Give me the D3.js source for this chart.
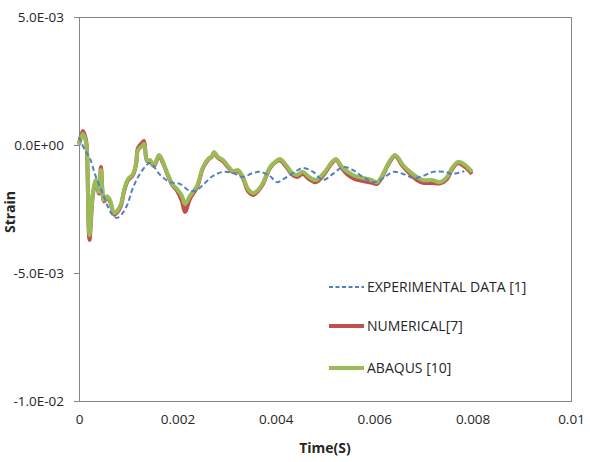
<!DOCTYPE html>
<html><head><meta charset="utf-8">
<script src="https://cdn.jsdelivr.net/npm/d3@7"></script>
<style>
body{margin:0;background:#fff;}
text{font-family:"Open Sans",Lato,sans-serif;fill:#262626;}
</style></head>
<body><svg id="c" width="590" height="462"></svg>
<script>
// Experimental data [1]
const expTime = [0,0.000012,0.000022,0.000033,0.000047,0.000059,0.000067,0.000077,0.000087,0.000098,0.000108,0.00012,0.000134,0.000144,0.000165,0.000185,0.000205,0.000226,0.00024,0.000252,0.000272,0.000293,0.000313,0.000333,0.000354,0.000368,0.000388,0.000402,0.000419,0.000439,0.000455,0.000476,0.000496,0.000516,0.000537,0.000557,0.000577,0.000602,0.000622,0.000638,0.000659,0.000679,0.000699,0.00072,0.000744,0.000758,0.00077,0.000783].map(d=>d*10);
const expStrain = [0.31,-0.2,-0.51,-1.17,-1.84,-2.42,-2.70,-2.85,-2.70,-2.34,-1.76,-1.25,-0.86,-0.70,-1.17,-1.45,-1.52,-1.80,-1.76,-1.56,-1.21,-1.05,-1.09,-1.25,-1.09,-1.05,-1.21,-1.45,-1.29,-1.05,-0.90,-1.05,-1.37,-1.13,-0.86,-0.98,-1.25,-1.45,-1.25,-1.05,-1.13,-1.29,-1.21,-1.05,-1.05,-1.13,-1.09,-1.02].map(d=>d*1e-3);

// Numerical [7] and ABAQUS [10] share a time base
const simTime = [0,0.041,0.081,0.142,0.163,0.213,0.285,0.346,0.407,0.447,0.508,0.569,0.630,0.711,0.772,0.854,0.915,0.996,1.098,1.159,1.199,1.280,1.321,1.382,1.443,1.524,1.626,1.707,1.809,1.911,1.992,2.093,2.154,2.256,2.398,2.520,2.622,2.703,2.744,2.825,2.927,3.028,3.130,3.232,3.333,3.435,3.537,3.638,3.740,3.882,4.004,4.085,4.207,4.329,4.431,4.553,4.675,4.817,4.980,5.142,5.224,5.346,5.467,5.610,5.772,5.955,6.057,6.179,6.280,6.423,6.585,6.728,6.870,6.992,7.175,7.337,7.480,7.581,7.703,7.846,7.988].map(d=>d*1e-3);
const abaqusStrain = [0,0.27,0.43,0.12,-0.27,-3.52,-1.84,-1.37,-1.84,-0.98,-2.15,-2.0,-2.15,-2.66,-2.58,-2.30,-1.76,-1.33,-1.13,-0.74,-0.20,-0.04,0.04,-0.59,-0.59,-0.78,-0.39,-0.66,-1.17,-1.56,-1.72,-1.99,-2.30,-1.99,-1.60,-0.86,-0.55,-0.43,-0.27,-0.47,-0.59,-0.82,-1.02,-0.98,-1.25,-1.72,-1.88,-1.76,-1.48,-0.86,-0.63,-0.55,-0.78,-1.09,-1.17,-1.05,-1.25,-1.37,-1.09,-0.66,-0.55,-0.86,-1.05,-1.21,-1.29,-1.37,-1.45,-1.13,-0.74,-0.39,-0.78,-1.05,-1.25,-1.37,-1.37,-1.45,-1.25,-0.90,-0.66,-0.78,-1.05].map(d=>d*1e-3);
const numericalStrain = [0.05,0.35,0.55,0.2,-0.3,-3.71,-1.9,-1.42,-1.9,-0.86,-2.2,-2.05,-2.2,-2.72,-2.64,-2.36,-1.82,-1.38,-1.17,-0.76,-0.12,0.08,0.16,-0.62,-0.64,-0.82,-0.43,-0.7,-1.2,-1.6,-1.78,-2.2,-2.62,-2.1,-1.66,-0.9,-0.58,-0.45,-0.3,-0.5,-0.64,-0.86,-1.06,-1.02,-1.3,-1.8,-1.95,-1.8,-1.52,-0.9,-0.66,-0.6,-0.84,-1.15,-1.25,-1.13,-1.33,-1.45,-1.15,-0.7,-0.58,-0.92,-1.17,-1.33,-1.41,-1.48,-1.52,-1.18,-0.78,-0.43,-0.84,-1.13,-1.37,-1.48,-1.48,-1.50,-1.33,-0.95,-0.7,-0.86,-1.13].map(d=>d*1e-3);

const xTicks = [0,0.002,0.004,0.006,0.008,0.01];
const xTickLabels = ["0","0.002","0.004","0.006","0.008","0.01"];
const yTicks = [5e-3,0,-5e-3,-1e-2];
const yTickLabels = ["5.0E-03","0.0E+00","-5.0E-03","-1.0E-02"];
const seriesNames = ["EXPERIMENTAL DATA [1]","NUMERICAL[7]","ABAQUS [10]"];

const svg = d3.select("#c");
const L=79,R=571,T=17,B=401;
const x = d3.scaleLinear().domain([0,0.01]).range([L,R]);
const y = d3.scaleLinear().domain([-1e-2,5e-3]).range([B,T]);
const axisCol="#868686";
const FONT='"Open Sans",Lato,sans-serif';

svg.append("rect").attr("x",L).attr("y",T).attr("width",R-L).attr("height",B-T)
  .attr("fill","none").attr("stroke",axisCol).attr("stroke-width",1).attr("shape-rendering","crispEdges");

const yAxis = svg.append("g").attr("transform",`translate(${L},0)`)
  .call(d3.axisLeft(y).tickValues(yTicks).tickSize(5).tickFormat((d,i)=>yTickLabels[i]));
yAxis.select(".domain").attr("stroke",axisCol);
yAxis.selectAll(".tick line").attr("stroke",axisCol);
yAxis.selectAll(".tick text").attr("x",-15).attr("font-size","13.5px").style("font-family",FONT).attr("fill","#262626");

const xAxis = svg.append("g").attr("transform",`translate(0,${B})`)
  .call(d3.axisBottom(x).tickValues(xTicks).tickSize(0).tickFormat((d,i)=>xTickLabels[i]));
xAxis.select(".domain").attr("stroke",axisCol);
xAxis.selectAll(".tick text").attr("y",13).attr("font-size","13.5px").style("font-family",FONT).attr("fill","#262626");

svg.append("text").attr("x",325).attr("y",453).attr("text-anchor","middle")
  .attr("font-size","14px").attr("font-weight","bold").text("Time(S)");
svg.append("text").attr("transform","translate(15,212) rotate(-90)").attr("text-anchor","middle")
  .attr("font-size","14px").attr("font-weight","bold").text("Strain");

const line = d3.line().x(d=>x(d[0])).y(d=>y(d[1])).curve(d3.curveCatmullRom.alpha(0.5));

const num = simTime.map((t,i)=>[t,numericalStrain[i]]);
const aba = simTime.map((t,i)=>[t,abaqusStrain[i]]);
const exp = expTime.map((t,i)=>[t,expStrain[i]]);

const colors = ["#4F81BD","#C0504D","#9BBB59"];
svg.append("path").attr("d",line(num)).attr("fill","none").attr("stroke",colors[1]).attr("stroke-width",4).attr("stroke-linejoin","round");
svg.append("path").attr("d",line(aba)).attr("fill","none").attr("stroke",colors[2]).attr("stroke-width",4).attr("stroke-linejoin","round");
svg.append("path").attr("d",line(exp)).attr("fill","none").attr("stroke",colors[0]).attr("stroke-width",2).attr("stroke-dasharray","5,3");

const legY=[287,326,368];
seriesNames.forEach((n,i)=>{
  const g = svg.append("g");
  g.append("line").attr("x1",329).attr("x2",364).attr("y1",legY[i]).attr("y2",legY[i])
    .attr("stroke",colors[i]).attr("stroke-width",i===0?2:4)
    .attr("stroke-dasharray",i===0?"4,2.5":null);
  g.append("text").attr("x",367).attr("y",legY[i]).attr("dy","0.35em").attr("font-size","14px").text(n);
});
</script></body></html>
